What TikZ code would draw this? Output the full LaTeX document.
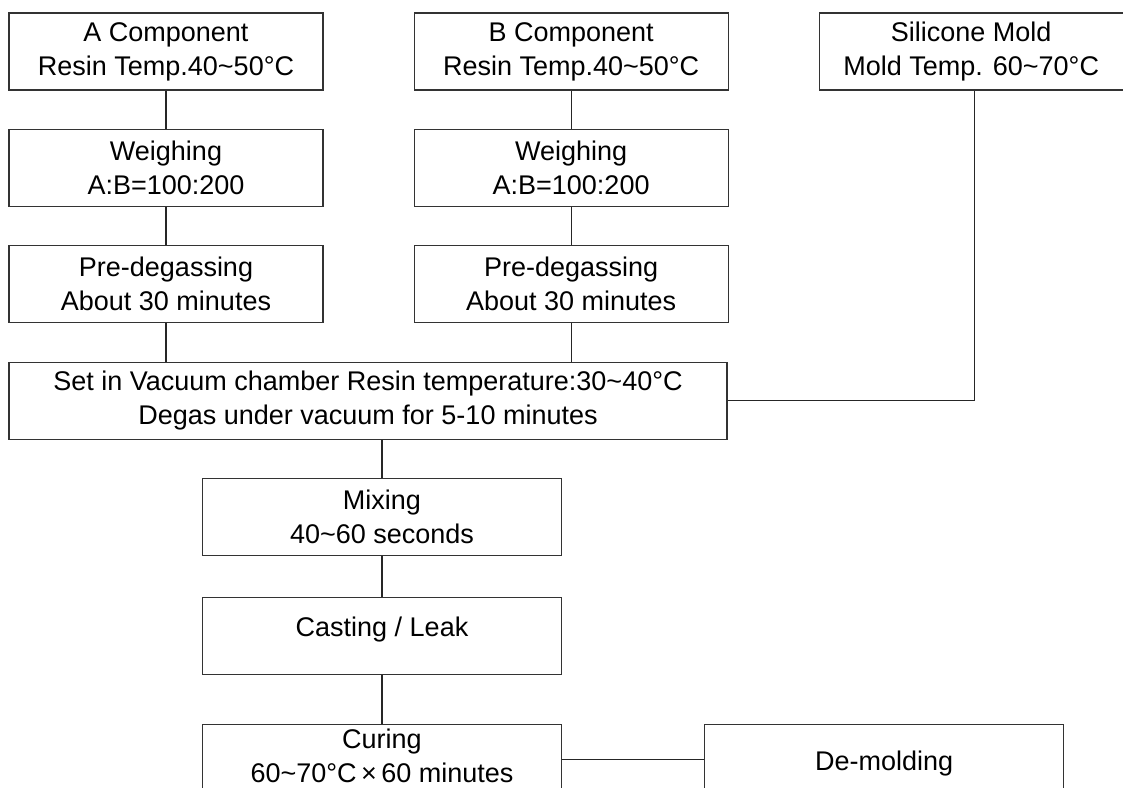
\documentclass[tikz,border=0pt]{standalone}
\usepackage{fontspec}
\setmainfont{Liberation Sans}
\usetikzlibrary{positioning}

\begin{document}
\begin{tikzpicture}[
    x=1pt, y=1pt,
    node distance=38pt, % gap between two boxes of one column
    every node/.style={font={\fontsize{27pt}{34pt}\selectfont}}, % text of all the boxes
    stepbox/.style={draw=black!80, line width=1.1pt, align=center, inner sep=0pt,
      minimum height=77pt, minimum width=314pt}, % one process step
    link/.style={draw=black!85, line width=1.1pt}
  ]

  \useasboundingbox (0,0) rectangle (1123,-787);
  \clip (0,0) rectangle (1123,-787);

  % the three inputs
  \node[stepbox] (acomp) at (166,-51.5) {A Component\\Resin Temp.40\textasciitilde50°C};
  \node[stepbox, right=90pt of acomp] (bcomp) {B Component\\Resin Temp.40\textasciitilde50°C};
  \node[stepbox, right=90pt of bcomp, minimum width=304pt] (mold) {Silicone Mold\\Mold Temp. 60\textasciitilde70°C};

  \node[stepbox, below=of acomp] (wa) {Weighing\\A:B=100:200};
  \node[stepbox, below=of bcomp] (wb) {Weighing\\A:B=100:200};

  \node[stepbox, below=of wa] (pa) {Pre-degassing\\About 30 minutes};
  \node[stepbox, below=of wb] (pb) {Pre-degassing\\About 30 minutes};

  \node[stepbox, below=39pt of pa.south west, anchor=north west, minimum width=718pt] (vac)
    {Set in Vacuum chamber Resin temperature:30\textasciitilde40°C\\Degas under vacuum for 5-10 minutes};

  % main line
  \node[stepbox, below=38pt of vac, xshift=14pt, minimum width=359pt] (mix) {Mixing\\40\textasciitilde60 seconds};
  \node[stepbox, below=41pt of mix, minimum width=359pt] (cast) {\raisebox{6pt}[\height][\depth]{Casting / Leak}};
  % the last row runs past the lower edge
  \node[stepbox, below=49pt of cast, minimum width=359pt] (cure)
    {\raisebox{4pt}[\height][\depth]{\begin{tabular}{@{}c@{}}Curing\\60\textasciitilde70°C\,×\,60 minutes\end{tabular}}};
  \node[stepbox, right=142pt of cure, minimum width=359pt] (demold) {De-molding};

  \draw[link] (acomp) -- (wa);
  \draw[link] (bcomp) -- (wb);
  \draw[link] (wa) -- (pa);
  \draw[link] (wb) -- (pb);
  \draw[link] (pa.south) -- (pa.south |- vac.north);
  \draw[link] (pb.south) -- (pb.south |- vac.north);
  \draw[link] (vac.east) -| ([xshift=3pt]mold.south);
  \draw[link] (mix.north) -- (mix.north |- vac.south);
  \draw[link] (mix) -- (cast);
  \draw[link] (cast) -- (cure);
  \draw[link] ([yshift=4pt]cure.east) -- ([yshift=4pt]demold.west);

\end{tikzpicture}
\end{document}
